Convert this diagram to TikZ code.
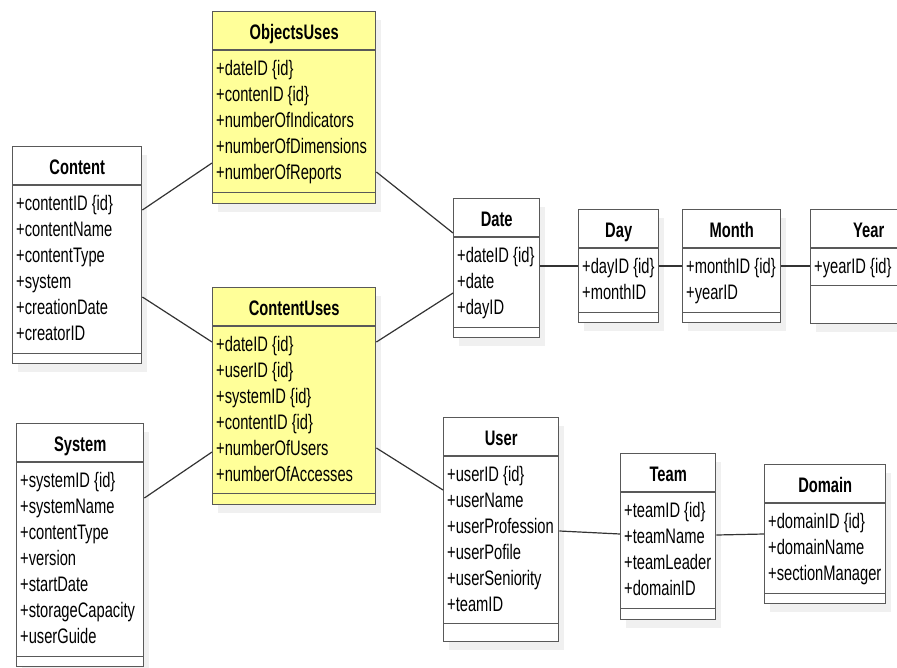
\documentclass[tikz,border=0pt]{standalone}
\usepackage{fontspec}
\setmainfont{Liberation Sans}[FakeStretch=0.7]
\usepackage{tikz}
\usetikzlibrary{shadows}
\definecolor{umlyellow}{RGB}{255,255,153}

\begin{document}
\begin{tikzpicture}[x=1pt,y=-1pt]
\tikzstyle{classbox}=[draw=black!65, line width=1.4pt, anchor=north west, inner sep=0pt,
  drop shadow={shadow xshift=5pt,shadow yshift=-8pt,fill=black!6,opacity=1}]
\tikzstyle{rule}=[draw=black!65, line width=1.4pt]
\tikzstyle{title}=[font=\bfseries\fontsize{21}{25}\selectfont, anchor=base, inner sep=0pt]
\tikzstyle{attrs}=[font=\fontsize{21}{25.9}\selectfont, align=left, anchor=north west, inner sep=0pt]
\tikzstyle{assoc}=[draw=black!80, line width=1.2pt]

\useasboundingbox (0,0) rectangle (897,667);

% class boxes: name/x/y/width/height/last compartment/fill
\foreach \nm/\x/\y/\w/\h/\b/\f in {objuses/212/11/163/192/12/umlyellow,
    content/12/146/129/217/11/white, contentuses/212/287/163/217/12/umlyellow,
    system/16/423/127/243/11/white, date/453/198/86/139/11/white,
    day/578/209/80/113/11/white, month/682/209/98/113/11/white,
    year/810/209/116/114/39/white, user/443/417/115/224/19/white,
    team/620/453/95/166/12/white, domain/764/464/121/139/11/white}{
  \node[classbox, fill=\f, minimum width=\w, minimum height=\h] (\nm) at (\x,\y) {};
  \draw[rule] ([yshift=-39pt]\nm.north west) -- ([yshift=-39pt]\nm.north east);
  \draw[rule] ([yshift=\b pt]\nm.south west) -- ([yshift=\b pt]\nm.south east);
}

% class names
\foreach \nm/\t in {objuses/ObjectsUses, content/Content, contentuses/ContentUses,
    system/System, date/Date, day/Day, month/Month, year/Year,
    user/User, team/Team, domain/Domain}
  \node[title] (\nm-title) at ([yshift=-28pt]\nm.north) {\t};

% attributes
\node[attrs] (objuses-attr) at ([xshift=4pt,yshift=-49.5pt]objuses.north west)
  {+dateID \{id\}\\+contenID \{id\}\\+numberOfIndicators\\+numberOfDimensions\\+numberOfReports};
\node[attrs] (content-attr) at ([xshift=4pt,yshift=-49.5pt]content.north west)
  {+contentID \{id\}\\+contentName\\+contentType\\+system\\+creationDate\\+creatorID};
\node[attrs] (contentuses-attr) at ([xshift=4pt,yshift=-49.5pt]contentuses.north west)
  {+dateID \{id\}\\+userID \{id\}\\+systemID \{id\}\\+contentID \{id\}\\+numberOfUsers\\+numberOfAccesses};
\node[attrs] (system-attr) at ([xshift=4pt,yshift=-49.5pt]system.north west)
  {+systemID \{id\}\\+systemName\\+contentType\\+version\\+startDate\\+storageCapacity\\+userGuide};
\node[attrs] (date-attr) at ([xshift=4pt,yshift=-49.5pt]date.north west)
  {+dateID \{id\}\\+date\\+dayID};
\node[attrs] (day-attr) at ([xshift=4pt,yshift=-49.5pt]day.north west)
  {+dayID \{id\}\\+monthID};
\node[attrs] (month-attr) at ([xshift=4pt,yshift=-49.5pt]month.north west)
  {+monthID \{id\}\\+yearID};
\node[attrs] (year-attr) at ([xshift=4pt,yshift=-49.5pt]year.north west)
  {+yearID \{id\}};
\node[attrs] (user-attr) at ([xshift=4pt,yshift=-49.5pt]user.north west)
  {+userID \{id\}\\+userName\\+userProfession\\+userPofile\\+userSeniority\\+teamID};
\node[attrs] (team-attr) at ([xshift=4pt,yshift=-49.5pt]team.north west)
  {+teamID \{id\}\\+teamName\\+teamLeader\\+domainID};
\node[attrs] (domain-attr) at ([xshift=4pt,yshift=-49.5pt]domain.north west)
  {+domainID \{id\}\\+domainName\\+sectionManager};

% associations
\draw[assoc] ([yshift=-64pt]content.north east) -- ([yshift=-152pt]objuses.north west);
\draw[assoc] ([yshift=-151pt]content.north east) -- ([yshift=-55pt]contentuses.north west);
\draw[assoc] ([yshift=-75pt]system.north east) -- ([yshift=-165pt]contentuses.north west);
\draw[assoc] ([yshift=-161pt]objuses.north east) -- ([yshift=-35pt]date.north west);
\draw[assoc] ([yshift=-55pt]contentuses.north east) -- ([yshift=-95pt]date.north west);
\draw[assoc] ([yshift=-161pt]contentuses.north east) -- ([yshift=-73pt]user.north west);
\draw[assoc] ([yshift=-68pt]date.north east) -- ([yshift=-57pt]day.north west);
\draw[assoc] ([yshift=-57pt]day.north east) -- ([yshift=-57pt]month.north west);
\draw[assoc] ([yshift=-57pt]month.north east) -- ([yshift=-57pt]year.north west);
\draw[assoc] ([yshift=-114pt]user.north east) -- ([yshift=-81pt]team.north west);
\draw[assoc] ([yshift=-82pt]team.north east) -- ([yshift=-70pt]domain.north west);
\end{tikzpicture}
\end{document}
